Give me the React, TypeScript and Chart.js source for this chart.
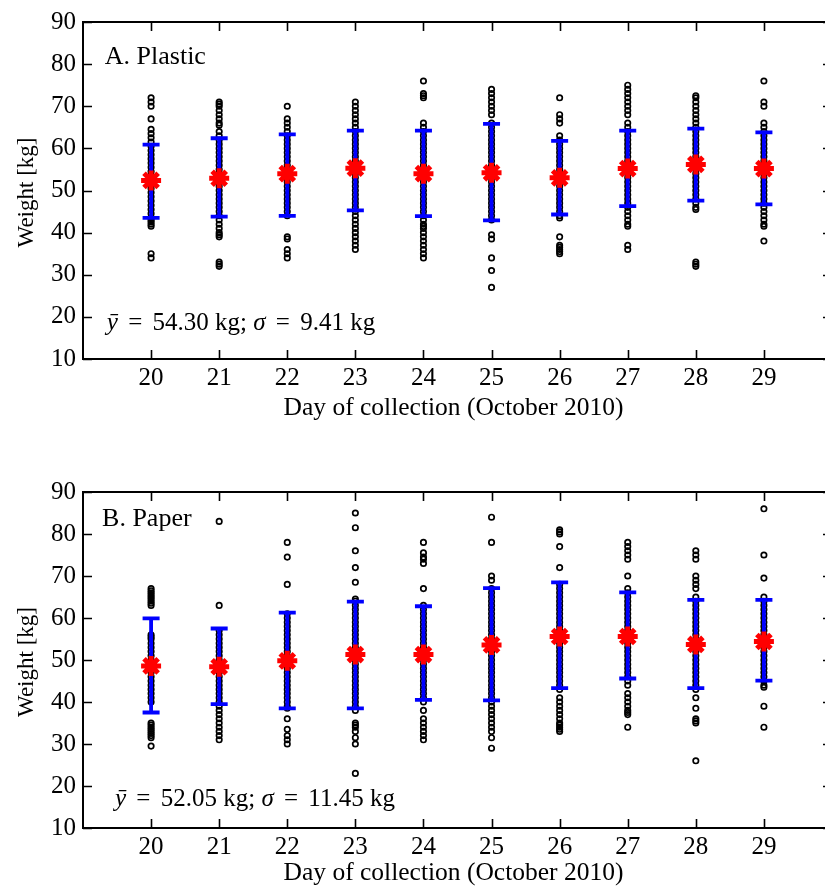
import React, { useEffect, useRef } from "react";
import { Chart, registerables } from "chart.js";
Chart.register(...registerables);

const days = [20, 21, 22, 23, 24, 25, 26, 27, 28, 29];
const yTicks = [10, 20, 30, 40, 50, 60, 70, 80, 90];

const plasticMeans = [52.4, 52.9, 54.0, 55.3, 54.0, 54.2, 53.0, 55.2, 56.2, 55.2];
const plasticUpper = [60.9, 62.4, 63.3, 64.2, 64.2, 65.8, 61.8, 64.2, 64.7, 63.8];
const plasticLower = [43.5, 43.8, 44.0, 45.3, 43.9, 42.9, 44.3, 46.3, 47.6, 46.7];
const plasticWeights = [
  [72, 71, 70, 67, 64.5, 63.5, 62.5, 61.5, 60.5, 59.5, 58.5, 57.5, 56.5, 55.5, 54.5, 53.5, 52.5, 51.5, 50.5, 49.5, 48.5, 47.5, 46.5, 45.5, 44.5, 43.5, 43, 42.5, 42, 41.5, 35, 34],
  [71, 70.5, 70, 69, 68, 67, 66, 65.5, 64, 63, 62, 61, 60, 59, 58, 57, 56, 55, 54, 53, 52, 51, 50, 49, 48, 47, 46, 45, 44, 43, 42, 41, 40, 39.5, 39, 33, 32.5, 32],
  [70, 67, 66, 65, 64, 63, 62, 61, 60, 59, 58, 57, 56, 55, 54, 53, 52, 51, 50, 49, 48, 47, 46, 45, 44, 39, 38.5, 36, 35, 34],
  [71, 70, 69, 68, 67, 66, 65, 64, 63, 62, 61, 60, 59, 58, 57, 56, 55, 54, 53, 52, 51, 50, 49, 48, 47, 46, 45, 44, 43, 42, 41, 40, 39, 38, 37, 36],
  [76, 73, 72.5, 72, 66, 65, 64, 63, 62, 61, 60, 59, 58, 57, 56, 55, 54, 53, 52, 51, 50, 49, 48, 47, 46, 45, 44, 43, 42, 41.5, 41, 40, 39, 38, 37, 36, 35, 34],
  [74, 73, 72, 71, 70, 69, 68, 66, 65, 64, 63, 62, 61, 60, 59, 58, 57, 56, 55, 54, 53, 52, 51, 50, 49, 48, 47, 46, 45, 44, 43, 39.5, 38.5, 34, 31, 27],
  [72, 68, 67, 66, 63, 62, 61, 60, 59, 58, 57, 56, 55, 54, 53, 52, 51, 50, 49, 48, 47, 46, 45, 44, 43.5, 39, 37, 36.5, 36, 35.5, 35],
  [75, 74, 73, 72, 71, 70, 69, 68, 66, 65, 64, 63, 62, 61, 60, 59, 58, 57, 56, 55, 54, 53, 52, 51, 50, 49, 48, 47, 46, 45, 44, 43, 42, 41.5, 37, 36],
  [72.5, 72, 71, 70, 69, 68, 67, 66, 65, 64, 63, 62, 61, 60, 59, 58, 57, 56, 55, 54, 53, 52, 51, 50, 49, 48, 47, 46, 45.5, 33, 32.5, 32],
  [76, 71, 70, 66, 65, 64, 63, 62, 61, 60, 59, 58, 57, 56, 55, 54, 53, 52, 51, 50, 49, 48, 47, 46, 45, 44, 43, 42, 41.5, 38],
];

const paperMeans = [48.6, 48.4, 49.8, 51.3, 51.3, 53.6, 55.6, 55.6, 53.7, 54.4];
const paperUpper = [59.9, 57.5, 61.3, 63.9, 62.8, 67.1, 68.5, 66.1, 64.3, 64.3];
const paperLower = [37.5, 39.5, 38.5, 38.5, 40.5, 40.4, 43.3, 45.6, 43.3, 45.1];
const paperWeights = [
  [67, 66.5, 66, 65.5, 65, 64.5, 64, 63.5, 63, 56, 55.5, 55, 54, 53, 52, 51, 50, 49, 48, 47, 46, 45, 44, 43, 42, 41, 40, 35, 34.5, 34, 33.5, 33, 32.5, 32, 31.5, 29.5],
  [83, 63, 57, 56, 55, 54, 53, 52, 51, 50, 49, 48, 47, 46, 45, 44, 43, 42, 41, 40, 39, 38, 37, 36, 35, 34, 33, 32, 31],
  [78, 74.5, 68, 61, 60, 59, 58, 57, 56, 55, 54, 53, 52, 51, 50, 49, 48, 47, 46, 45, 44, 43, 42, 41, 40, 39, 38.5, 36, 33.5, 32, 31, 30],
  [85, 81.5, 76, 72, 68.5, 64.5, 64, 63, 62, 61, 60, 59, 58, 57, 56, 55, 54, 53, 52, 51, 50, 49, 48, 47, 46, 45, 44, 43, 42, 41, 40, 39, 38, 35, 34.5, 34, 33, 31.5, 30, 23],
  [78, 75.5, 74.5, 74, 73, 67, 63, 62, 61, 60, 59, 58, 57, 56, 55, 54, 53, 52, 51, 50, 49, 48, 47, 46, 45, 44, 43, 42, 41, 40, 38, 36, 35, 34, 33, 32, 31],
  [84, 78, 70, 69, 67, 66, 65, 64, 63, 62, 61, 60, 59, 58, 57, 56, 55, 54, 53, 52, 51, 50, 49, 48, 47, 46, 45, 44, 43, 42, 41, 40, 39, 38, 37, 36, 35, 34, 33, 31.5, 29],
  [81, 80.5, 80, 77, 72, 68, 67, 66, 65, 64, 63, 62, 61, 60, 59, 58, 57, 56, 55, 54, 53, 52, 51, 50, 49, 48, 47, 46, 45, 44, 43, 41, 40, 39, 38, 37, 36, 35, 34.5, 34, 33.5, 33],
  [78, 77, 76, 75, 74, 70, 67, 66, 65, 64, 63, 62, 61, 60, 59, 58, 57, 56, 55, 54, 53, 52, 51, 50, 49, 48, 47, 46, 45, 44, 42, 41, 40, 39, 38, 37.5, 37, 34],
  [76, 75, 74, 70, 69, 68, 67, 65, 64, 63, 62, 61, 60, 59, 58, 57, 56, 55, 54, 53, 52, 51, 50, 49, 48, 47, 46, 45, 44, 43, 41, 38.5, 36, 35.5, 35, 26],
  [86, 75, 69.5, 65, 64, 63, 62, 61, 60, 59, 58, 57, 56, 55, 54, 53, 52, 51, 50, 49, 48, 47, 46, 45, 44, 43.5, 39, 34],
];

const xTitle = "Day of collection (October 2010)";
const yTitle = "Weight [kg]";

const FONT = '"Liberation Serif", "Times New Roman", serif';
const CW = 850;
const PLOT_LEFT = 83;
const PLOT_RIGHT = 832;

type PanelProps = {
  height: number;
  plotTop: number;
  plotBottom: number;
  label: string;
  labelPos: [number, number];
  statMean: string;
  statSd: string;
  statPos: [number, number];
  xTitleY: number;
  means: number[];
  upper: number[];
  lower: number[];
  weights: number[][];
};

type Piece = [string, boolean] | number;

function drawMixed(ctx: CanvasRenderingContext2D, x: number, y: number, size: number, pieces: Piece[]) {
  let cx = x;
  for (const pc of pieces) {
    if (typeof pc === "number") { cx += pc; continue; }
    const [t, it] = pc;
    ctx.font = `${it ? "italic " : ""}${size}px ${FONT}`;
    ctx.fillText(t, cx, y);
    cx += ctx.measureText(t).width;
  }
}

function Panel(p: PanelProps) {
  const ref = useRef<HTMLCanvasElement>(null);
  useEffect(() => {
    const canvas = ref.current!;
    const pts: { x: number; y: number }[] = [];
    p.weights.forEach((arr, i) => arr.forEach((w) => pts.push({ x: days[i], y: w })));
    const meanPts = days.map((d, i) => ({ x: d, y: p.means[i] }));

    const overlay = {
      id: "overlay",
      beforeDatasetDraw(chart: any, args: any) {
        if (args.index !== 0) return;
        const ctx = chart.ctx as CanvasRenderingContext2D;
        const xs = chart.scales.x, ys = chart.scales.y;
        ctx.save();
        ctx.strokeStyle = "#0000ff";
        ctx.lineWidth = 3.8;
        days.forEach((d, i) => {
          const x = xs.getPixelForValue(d);
          const yu = ys.getPixelForValue(p.upper[i]);
          const yl = ys.getPixelForValue(p.lower[i]);
          ctx.beginPath();
          ctx.moveTo(x, yu); ctx.lineTo(x, yl);
          ctx.moveTo(x - 8.5, yu); ctx.lineTo(x + 8.5, yu);
          ctx.moveTo(x - 8.5, yl); ctx.lineTo(x + 8.5, yl);
          ctx.stroke();
        });
        ctx.restore();
      },
      afterDraw(chart: any) {
        const ctx = chart.ctx as CanvasRenderingContext2D;
        const { left, right, top, bottom } = chart.chartArea;
        const xs = chart.scales.x, ys = chart.scales.y;
        ctx.save();
        ctx.strokeStyle = "#000";
        ctx.lineWidth = 1.6;
        ctx.beginPath();
        days.forEach((d) => {
          const x = Math.round(xs.getPixelForValue(d)) + 0.5;
          ctx.moveTo(x, bottom); ctx.lineTo(x, bottom - 9);
          ctx.moveTo(x, top); ctx.lineTo(x, top + 9);
        });
        yTicks.forEach((v) => {
          const y = Math.round(ys.getPixelForValue(v)) + 0.5;
          ctx.moveTo(left, y); ctx.lineTo(left + 9, y);
          ctx.moveTo(right, y); ctx.lineTo(right - 9, y);
        });
        ctx.stroke();
        ctx.lineWidth = 2;
        ctx.strokeRect(left, top, right - left, bottom - top);

        ctx.fillStyle = "#000";
        ctx.textAlign = "center";
        ctx.textBaseline = "middle";
        ctx.font = `25.5px ${FONT}`;
        ctx.fillText(xTitle, (left + right) / 2 - 4, p.xTitleY);
        ctx.save();
        ctx.translate(27, (top + bottom) / 2 + 2);
        ctx.rotate(-Math.PI / 2);
        ctx.font = `23px ${FONT}`;
        ctx.fillText(yTitle, 0, 0);
        ctx.restore();

        ctx.textAlign = "left";
        ctx.textBaseline = "alphabetic";
        ctx.font = `26px ${FONT}`;
        ctx.fillText(p.label, xs.getPixelForValue(p.labelPos[0]), ys.getPixelForValue(p.labelPos[1]));
        drawMixed(ctx, xs.getPixelForValue(p.statPos[0]), ys.getPixelForValue(p.statPos[1]), 25, [
          ["ȳ", true],
          4,
          [" = ", false],
          4,
          [p.statMean + " kg; ", false],
          ["σ", true],
          4,
          [" = ", false],
          4,
          [p.statSd + " kg", false],
        ]);
        ctx.restore();
      },
    };

    const chart = new Chart(canvas, {
      type: "scatter",
      data: {
        datasets: [
          {
            data: meanPts,
            pointStyle: "star",
            radius: 10,
            borderWidth: 5,
            borderColor: "#ff0000",
            backgroundColor: "#ff0000",
            showLine: false,
          },
          {
            data: pts,
            pointStyle: "circle",
            radius: 2.7,
            borderWidth: 1.7,
            borderColor: "#000000",
            backgroundColor: "rgba(0,0,0,0)",
            showLine: false,
          },
        ],
      },
      options: {
        responsive: false,
        animation: false,
        layout: { padding: { left: 0, top: p.plotTop, right: CW - PLOT_RIGHT, bottom: 0 } },
        plugins: { legend: { display: false }, tooltip: { enabled: false } },
        scales: {
          x: {
            type: "linear",
            min: 19,
            max: 30,
            grid: { display: false, drawTicks: false },
            border: { display: false },
            afterBuildTicks: (s: any) => { s.ticks = days.map((v) => ({ value: v })); },
            afterFit: (s: any) => { s.height = p.height - p.plotBottom; },
            ticks: { color: "#000", padding: 4, font: { family: FONT, size: 25 }, maxRotation: 0, autoSkip: false },
          },
          y: {
            type: "linear",
            min: 10,
            max: 90,
            grid: { display: false, drawTicks: false },
            border: { display: false },
            afterBuildTicks: (s: any) => { s.ticks = yTicks.map((v) => ({ value: v })); },
            afterFit: (s: any) => { s.width = PLOT_LEFT; },
            ticks: { color: "#000", padding: 7, font: { family: FONT, size: 25 }, autoSkip: false },
          },
        },
      },
      plugins: [overlay],
    } as any);
    return () => chart.destroy();
  }, []);
  return <canvas ref={ref} width={CW} height={p.height} style={{ display: "block", width: CW, height: p.height }} />;
}

export default function App() {
  return (
    <div style={{ position: "fixed", left: 0, top: 0, width: 825, height: 888, overflow: "hidden", background: "#fff" }}>
      <Panel
        height={440}
        plotTop={21}
        plotBottom={359}
        label="A. Plastic"
        labelPos={[19.32, 80.1]}
        statMean="54.30"
        statSd="9.41"
        statPos={[19.35, 16.9]}
        xTitleY={408}
        means={plasticMeans}
        upper={plasticUpper}
        lower={plasticLower}
        weights={plasticWeights}
      />
      <Panel
        height={448}
        plotTop={52}
        plotBottom={388}
        label="B. Paper"
        labelPos={[19.28, 81.9]}
        statMean="52.05"
        statSd="11.45"
        statPos={[19.47, 15.2]}
        xTitleY={433}
        means={paperMeans}
        upper={paperUpper}
        lower={paperLower}
        weights={paperWeights}
      />
    </div>
  );
}
